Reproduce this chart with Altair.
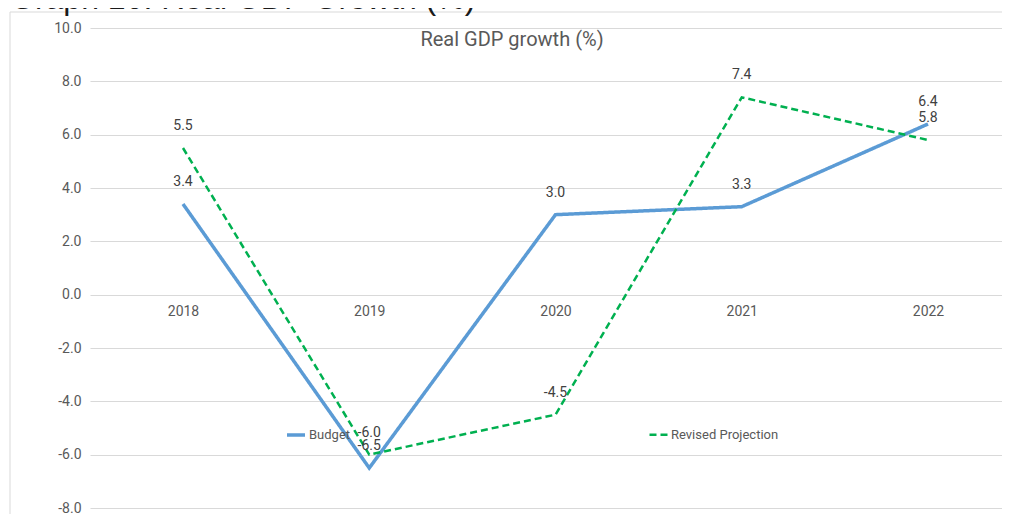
import altair as alt
import pandas as pd

# ---- data ----
years = [2018, 2019, 2020, 2021, 2022]
budget = [3.4, -6.5, 3.0, 3.3, 6.4]
revised = [5.5, -6.0, -4.5, 7.4, 5.8]
series_names = ["Budget", "Revised Projection"]
series_colors = ["#5B9BD5", "#00B050"]
y_ticks = [-8, -6, -4, -2, 0, 2, 4, 6, 8, 10]
chart_title = "Real GDP growth (%)"
outer_title = "Graph 10: Real GDP Growth (%)"

rows = []
for yr, b, r in zip(years, budget, revised):
    rows.append({"year": yr, "series": series_names[0], "value": b, "label": f"{b:.1f}"})
    rows.append({"year": yr, "series": series_names[1], "value": r, "label": f"{r:.1f}"})
df = pd.DataFrame(rows)

W, H = 912, 480
FONT = "Roboto"

x_scale = alt.Scale(domain=[2017.50067, 2022.39732], nice=False, zero=False)
y_scale = alt.Scale(domain=[-8, 10], nice=False, zero=False)

legend_kw = dict(
    orient="none", legendX=195, legendY=396, direction="horizontal", title=None,
    labelFont=FONT, labelFontSize=13, labelColor="#595959",
    symbolType="stroke", symbolSize=324, symbolStrokeWidth=3,
    columnPadding=293, labelOffset=2, padding=0,
)

x_enc = alt.X(
    "year:Q", scale=x_scale,
    axis=alt.Axis(values=years, format="d", title=None, grid=False, domain=False,
                  ticks=False, tickSize=0, labelPadding=10, offset=-213.33,
                  labelFont=FONT, labelFontSize=14, labelColor="#595959"),
)
y_enc = alt.Y(
    "value:Q", scale=y_scale,
    axis=alt.Axis(values=y_ticks, title=None, grid=True,
                  labelExpr="datum.value < 0 ? '-' + format(-datum.value, '.1f') : format(datum.value, '.1f')",
                  gridColor="#d9d9d9", gridWidth=1, domain=False, ticks=False,
                  tickSize=0, labelPadding=9, labelFont=FONT, labelFontSize=14,
                  labelColor="#595959"),
)

base = alt.Chart(df)

lines = base.mark_line(strokeCap="butt", strokeJoin="miter").encode(
    x=x_enc,
    y=y_enc,
    color=alt.Color("series:N", scale=alt.Scale(domain=series_names, range=series_colors),
                    legend=alt.Legend(**legend_kw)),
    strokeDash=alt.StrokeDash("series:N", scale=alt.Scale(domain=series_names, range=[[1, 0], [7, 4]]),
                              legend=alt.Legend(**legend_kw)),
    strokeWidth=alt.StrokeWidth("series:N", scale=alt.Scale(domain=series_names, range=[3.5, 2.5]),
                                legend=None),
    detail="series:N",
)

labels = base.mark_text(font=FONT, fontSize=14, color="#404040", dy=-22, baseline="middle",
                        align="center").encode(
    x=alt.X("year:Q", scale=x_scale),
    y=alt.Y("value:Q", scale=y_scale),
    text="label:N",
)

one = alt.Data(values=[{"k": 1}])

frame_top = alt.Chart(one).mark_rule(stroke="#d9d9d9", strokeWidth=1).encode(
    x=alt.value(-80), x2=alt.value(920), y=alt.value(-16),
)
frame_left = alt.Chart(one).mark_rule(stroke="#d9d9d9", strokeWidth=1).encode(
    x=alt.value(-80), y=alt.value(-16), y2=alt.value(486),
)

inner_title = alt.Chart(one).mark_text(font=FONT, fontSize=20, color="#595959",
                                       align="center", baseline="middle").encode(
    x=alt.value(422), y=alt.value(12), text=alt.value(chart_title),
)

top_title = alt.Chart(one).mark_text(font="Liberation Sans", fontSize=32, color="#1a1a1a",
                                     align="left", baseline="alphabetic").encode(
    x=alt.value(-80), y=alt.value(-19), text=alt.value(outer_title),
)

chart = alt.layer(frame_top, frame_left, lines, labels, inner_title, top_title).properties(
    width=W, height=H,
    autosize=alt.AutoSizeParams(type="none"),
    padding={"left": 82, "top": 20, "right": 0, "bottom": 6},
).configure_view(stroke=None)

chart.save("out.html", embed_options={"renderer": "svg", "actions": False})
